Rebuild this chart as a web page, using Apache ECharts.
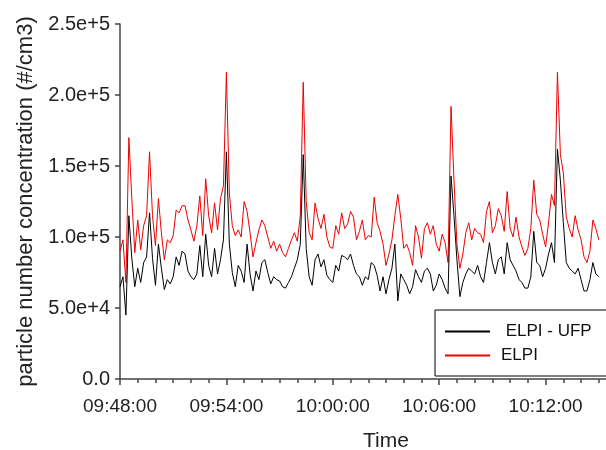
<!DOCTYPE html>
<html>
<head>
<meta charset="utf-8">
<script src="https://cdn.jsdelivr.net/npm/echarts@6/dist/echarts.min.js"></script>
<style>
    html, body { margin: 0; padding: 0; background: #fff; }
    #chart { width: 606px; height: 450px; }
</style>
</head>
<body>
<div id="chart"></div>
<script>
// samples every 10 s from 09:48:00, values in 1e3 #/cm3
const startTime = '09:48:00';
const stepSec = 10;

const elpi = [
    90, 98, 68, 170, 127, 89, 112, 91, 108, 115,
    160, 115, 94, 127, 103, 84, 98, 96, 101, 119,
    117, 122, 122, 112, 105, 97, 108, 129, 101, 141,
    115, 103, 124, 105, 127, 136, 216, 131, 108, 101,
    105, 100, 125, 118, 103, 86, 96, 105, 112, 108,
    100, 92, 97, 90, 95, 89, 86, 92, 98, 103,
    97, 115, 209, 125, 103, 98, 124, 113, 106, 116,
    100, 93, 92, 108, 102, 117, 106, 109, 118, 114,
    98, 104, 112, 98, 101, 100, 128, 110, 104, 95,
    80, 88, 98, 115, 130, 113, 92, 95, 89, 80,
    108, 100, 85, 106, 110, 102, 108, 95, 90, 102,
    96, 82, 192, 140, 95, 78, 88, 103, 110, 98,
    106, 103, 102, 96, 118, 125, 103, 108, 120, 115,
    104, 132, 106, 100, 114, 100, 93, 87, 92, 106,
    140, 116, 112, 102, 93, 110, 130, 122, 216, 158,
    145, 114, 106, 100, 115, 105, 98, 86, 82, 90,
    112, 106, 98
];

const elpiUfp = [
    65, 72, 45, 115, 85, 65, 78, 68, 82, 86,
    117, 85, 66, 95, 78, 63, 70, 67, 72, 86,
    80, 90, 88, 76, 72, 70, 74, 94, 72, 102,
    80, 72, 92, 74, 84, 98, 160, 95, 75, 65,
    80, 76, 68, 95, 74, 62, 76, 70, 82, 84,
    75, 67, 72, 70, 69, 65, 64, 68, 72, 78,
    84, 95, 158, 92, 72, 66, 84, 88, 79, 84,
    73, 70, 68, 80, 76, 87, 86, 84, 88, 80,
    74, 72, 66, 72, 70, 82, 80, 73, 62, 72,
    60, 70, 78, 95, 55, 74, 70, 66, 60, 65,
    77, 72, 68, 76, 78, 74, 62, 66, 74, 70,
    64, 60, 143, 115, 84, 58, 68, 74, 78, 76,
    74, 80, 72, 68, 82, 96, 82, 74, 84, 86,
    74, 96, 84, 80, 76, 70, 68, 64, 64, 72,
    104, 82, 80, 72, 78, 88, 96, 82, 162, 140,
    110, 82, 78, 76, 74, 78, 70, 62, 62, 70,
    82, 74, 72
];

const seriesNames = ['ELPI - UFP', 'ELPI'];

function toPairs (values) {
    return values.map((v, i) => [i * stepSec, v]);
}

function clockLabel (sec) {
    let p = startTime.split(':').map(Number);
    let total = p[0] * 3600 + p[1] * 60 + p[2] + sec;
    let h = Math.floor(total / 3600);
    let m = Math.floor((total % 3600) / 60);
    let s = total % 60;
    return [h, m, s].map((n) => String(n).padStart(2, '0')).join(':');
}

let myChart = echarts.init(document.getElementById('chart'));
myChart.setOption({
    animation: false,
    backgroundColor: '#fff',
    textStyle: {
        fontFamily: 'Liberation Sans'
    },
    grid: {
        left: 120,
        top: 24,
        bottom: 71,
        width: 532,
        outerBoundsMode: 'none',
        containLabel: false
    },
    legend: {
        orient: 'vertical',
        left: 435,
        top: 310,
        data: seriesNames,
        borderColor: '#000',
        borderWidth: 1,
        padding: [13, 80, 12, 10],
        itemGap: 7,
        itemWidth: 45,
        itemHeight: 2,
        icon: 'rect',
        formatter: (name) => (name === 'ELPI - UFP' ? ' ' + name : name),
        textStyle: {
            fontSize: 17,
            color: '#111',
            padding: [0, 0, 0, 6]
        }
    },
    xAxis: {
        type: 'value',
        name: 'Time',
        nameLocation: 'middle',
        nameGap: 52,
        nameTextStyle: {
            fontSize: 21,
            color: '#222'
        },
        min: 0,
        max: 1800,
        interval: 360,
        axisLine: {
            lineStyle: {
                color: '#444',
                width: 1.5
            }
        },
        axisTick: {
            length: 6,
            lineStyle: {
                color: '#444',
                width: 1.5
            }
        },
        minorTick: {
            show: true,
            splitNumber: 6,
            length: 4,
            lineStyle: {
                color: '#444',
                width: 1.5
            }
        },
        axisLabel: {
            fontSize: 19,
            color: '#222',
            margin: 18,
            formatter: (v) => clockLabel(v)
        },
        splitLine: {
            show: false
        }
    },
    yAxis: {
        type: 'value',
        name: 'particle number concentration (#/cm3)',
        nameLocation: 'middle',
        nameGap: 83,
        nameTextStyle: {
            fontSize: 22,
            color: '#222'
        },
        min: 0,
        max: 250,
        interval: 50,
        axisLine: {
            show: true,
            lineStyle: {
                color: '#444',
                width: 1.5
            }
        },
        axisTick: {
            show: true,
            length: 5,
            lineStyle: {
                color: '#444',
                width: 1.5
            }
        },
        axisLabel: {
            fontSize: 20,
            color: '#222',
            margin: 10,
            formatter: (v) => (v === 0 ? '0.0' : (v * 1000).toExponential(1))
        },
        splitLine: {
            show: false
        }
    },
    series: [
        {
            name: 'ELPI',
            type: 'line',
            data: toPairs(elpi),
            symbol: 'none',
            lineStyle: {
                color: '#ee0000',
                width: 1
            },
            itemStyle: {
                color: '#ee0000'
            }
        },
        {
            name: 'ELPI - UFP',
            type: 'line',
            data: toPairs(elpiUfp),
            symbol: 'none',
            lineStyle: {
                color: '#000',
                width: 1
            },
            itemStyle: {
                color: '#000'
            }
        }
    ]
});
</script>
</body>
</html>
